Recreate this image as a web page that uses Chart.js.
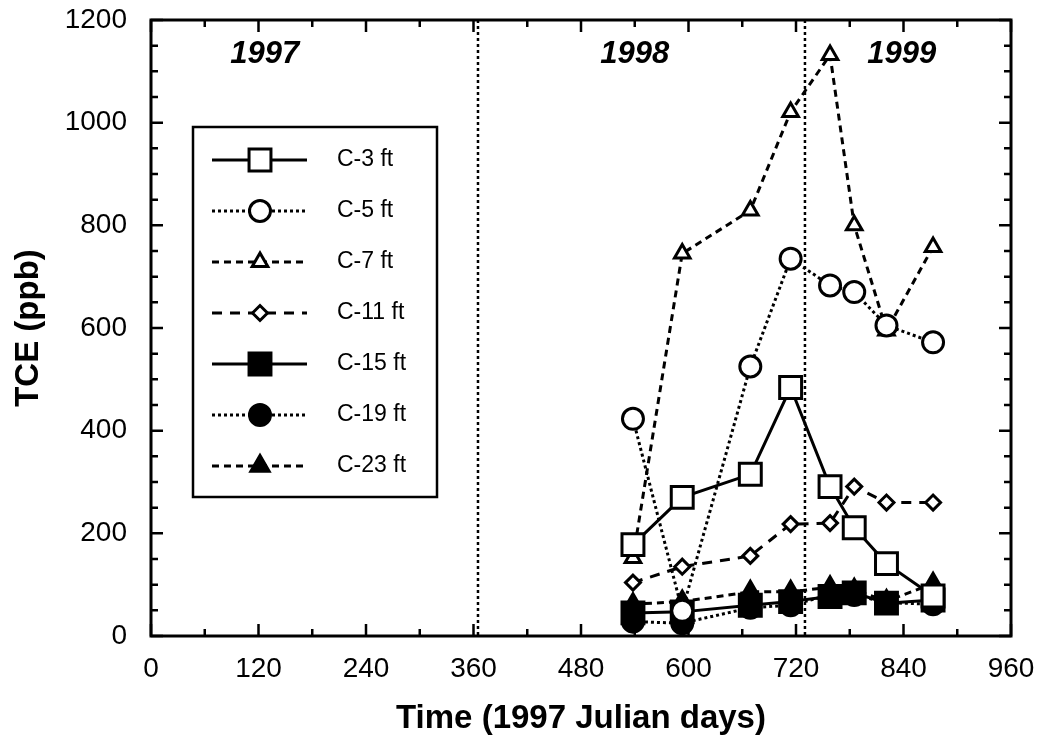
<!DOCTYPE html>
<html lang="en">
<head>
    <meta charset="UTF-8">
    <title>TCE concentrations over time</title>
    <script src="https://cdn.jsdelivr.net/npm/chart.js"></script>
    <style>
        body {
            margin: 0;
            padding: 0;
            background: #ffffff;
        }
        .chart-container {
            position: relative;
            width: 1040px;
            height: 742px;
        }
    </style>
</head>
<body>

    <div class="chart-container">
        <canvas id="tceChart"></canvas>
    </div>

    <script>
        // sampling days (1997 Julian days)
        const days = [538, 593, 669, 714, 758, 785, 821, 873];

        // TCE (ppb) per depth
        const c3 = [178, 270, 315, 484, 291, 211, 141, 78];
        const c5 = [423, 49, 525, 735, 683, 670, 605, 572];
        const c7 = [152, 745, 829, 1021, 1132, 800, 595, 758];
        const c11 = [104, 135, 156, 218, 220, 291, 260, 260];
        const c15 = [45, 47, 60, 67, 77, 84, 64, 70];
        const c19 = [28, 25, 55, 60, 80, 80, 65, 62];
        const c23 = [62, 67, 86, 86, 95, 90, 68, 102];

        const seriesLabels = ['C-3 ft', 'C-5 ft', 'C-7 ft', 'C-11 ft', 'C-15 ft', 'C-19 ft', 'C-23 ft'];

        // year boundaries and year captions
        const yearBoundaries = [365, 730];
        const yearNames = ['1997', '1998', '1999'];
        const yearNameDays = [127, 540, 838];
        const yearNameLevel = 1133;

        const xTicks = { min: 0, max: 960, step: 120, minor: 60 };
        const yTicks = { min: 0, max: 1200, step: 200, minor: 50 };

        const FONT = "'Liberation Sans', Arial, Helvetica, sans-serif";

        function pts(values) {
            return days.map((d, i) => ({ x: d, y: values[i] }));
        }

        function series(label, values, style, open, radius, dash) {
            return {
                label: label,
                data: pts(values),
                borderColor: '#000',
                borderWidth: 3,
                borderDash: dash,
                pointStyle: style,
                pointRadius: radius,
                pointBorderWidth: 3,
                pointBorderColor: '#000',
                pointBackgroundColor: open ? '#fff' : '#000',
                backgroundColor: open ? '#fff' : '#000',
                fill: false,
                tension: 0
            };
        }

        const datasets = [
            series(seriesLabels[0], c3, 'rect', true, 15.5, []),
            series(seriesLabels[1], c5, 'circle', true, 10.5, [3, 3]),
            series(seriesLabels[2], c7, 'triangle', true, 9, [7, 5]),
            series(seriesLabels[3], c11, 'rectRot', true, 7.5, [10, 8]),
            series(seriesLabels[4], c15, 'rect', false, 15.5, []),
            series(seriesLabels[5], c19, 'circle', false, 10.5, [3, 3]),
            series(seriesLabels[6], c23, 'triangle', false, 10.5, [7, 5])
        ];

        // frame, inside ticks, year lines and captions
        const framePlugin = {
            id: 'frame',
            beforeDatasetsDraw(chart) {
                const { ctx, chartArea: a, scales: { x, y } } = chart;
                ctx.save();
                ctx.strokeStyle = '#000';
                ctx.lineWidth = 2.5;
                ctx.setLineDash([3, 3]);
                yearBoundaries.forEach(d => {
                    const px = x.getPixelForValue(d);
                    ctx.beginPath();
                    ctx.moveTo(px, a.top);
                    ctx.lineTo(px, a.bottom);
                    ctx.stroke();
                });
                ctx.setLineDash([]);

                ctx.fillStyle = '#000';
                ctx.font = 'italic bold 31px ' + FONT;
                ctx.textAlign = 'center';
                ctx.textBaseline = 'middle';
                yearNames.forEach((t, i) => {
                    ctx.fillText(t, x.getPixelForValue(yearNameDays[i]), y.getPixelForValue(yearNameLevel));
                });
                ctx.restore();
            },
            afterDraw(chart) {
                const { ctx, chartArea: a, scales: { x, y } } = chart;
                ctx.save();
                ctx.strokeStyle = '#000';
                ctx.lineWidth = 2.5;
                ctx.beginPath();
                for (let v = xTicks.min; v <= xTicks.max; v += xTicks.minor) {
                    const len = v % xTicks.step === 0 ? 12 : 7;
                    const px = x.getPixelForValue(v);
                    ctx.moveTo(px, a.bottom);
                    ctx.lineTo(px, a.bottom - len);
                    ctx.moveTo(px, a.top);
                    ctx.lineTo(px, a.top + len);
                }
                for (let v = yTicks.min; v <= yTicks.max; v += yTicks.minor) {
                    const len = v % yTicks.step === 0 ? 12 : 7;
                    const py = y.getPixelForValue(v);
                    ctx.moveTo(a.left, py);
                    ctx.lineTo(a.left + len, py);
                    ctx.moveTo(a.right, py);
                    ctx.lineTo(a.right - len, py);
                }
                ctx.stroke();
                ctx.lineWidth = 3;
                ctx.strokeRect(a.left, a.top, a.right - a.left, a.bottom - a.top);
                ctx.restore();
            }
        };

        // boxed legend inside the plot
        const legendBox = {
            id: 'legendBox',
            afterDraw(chart) {
                const { ctx } = chart;
                const box = { left: 193, top: 127, right: 437, bottom: 497 };
                ctx.save();
                ctx.fillStyle = '#fff';
                ctx.fillRect(box.left, box.top, box.right - box.left, box.bottom - box.top);
                ctx.strokeStyle = '#000';
                ctx.lineWidth = 2.5;
                ctx.strokeRect(box.left, box.top, box.right - box.left, box.bottom - box.top);

                chart.data.datasets.forEach((ds, i) => {
                    const yy = 160 + i * 51;
                    ctx.strokeStyle = '#000';
                    ctx.lineWidth = ds.borderWidth;
                    ctx.setLineDash(ds.borderDash);
                    ctx.beginPath();
                    ctx.moveTo(212, yy);
                    ctx.lineTo(307, yy);
                    ctx.stroke();
                    ctx.setLineDash([]);
                    ctx.fillStyle = ds.pointBackgroundColor;
                    ctx.lineWidth = ds.pointBorderWidth;
                    Chart.helpers.drawPoint(ctx, {
                        pointStyle: ds.pointStyle,
                        radius: ds.pointRadius,
                        borderWidth: ds.pointBorderWidth,
                        rotation: 0
                    }, 260, yy);
                    ctx.fillStyle = '#000';
                    ctx.font = '23px ' + FONT;
                    ctx.textAlign = 'left';
                    ctx.textBaseline = 'middle';
                    ctx.fillText(ds.label, 337, yy);
                });
                ctx.restore();
            }
        };

        const ctx = document.getElementById('tceChart').getContext('2d');
        new Chart(ctx, {
            type: 'line',
            data: { datasets: datasets },
            options: {
                responsive: true,
                maintainAspectRatio: false,
                animation: false,
                events: [],
                layout: {
                    padding: { top: 20, right: 29, left: 0, bottom: 0 }
                },
                scales: {
                    x: {
                        type: 'linear',
                        min: xTicks.min,
                        max: xTicks.max,
                        grid: { display: false },
                        border: { display: false },
                        ticks: {
                            stepSize: xTicks.step,
                            color: '#000',
                            padding: 8,
                            maxRotation: 0,
                            callback: v => String(v),
                            font: { family: FONT, size: 28 }
                        },
                        title: {
                            display: true,
                            text: 'Time (1997 Julian days)',
                            color: '#000',
                            padding: { top: 0, bottom: 3 },
                            font: { family: FONT, size: 33, weight: 'bold' }
                        },
                        afterFit(scale) {
                            scale.height = 106;
                            scale.paddingLeft = 0;
                            scale.paddingRight = 0;
                        }
                    },
                    y: {
                        type: 'linear',
                        min: yTicks.min,
                        max: yTicks.max,
                        grid: { display: false },
                        border: { display: false },
                        ticks: {
                            stepSize: yTicks.step,
                            color: '#000',
                            padding: 16,
                            callback: v => String(v),
                            font: { family: FONT, size: 28 }
                        },
                        title: {
                            display: true,
                            text: 'TCE (ppb)',
                            color: '#000',
                            padding: { top: 9, bottom: 0 },
                            font: { family: FONT, size: 33, weight: 'bold' }
                        },
                        afterFit(scale) {
                            scale.width = 151;
                            scale.paddingTop = 0;
                            scale.paddingBottom = 0;
                        }
                    }
                },
                plugins: {
                    legend: { display: false },
                    tooltip: { enabled: false }
                }
            },
            plugins: [framePlugin, legendBox]
        });
    </script>

</body>
</html>
